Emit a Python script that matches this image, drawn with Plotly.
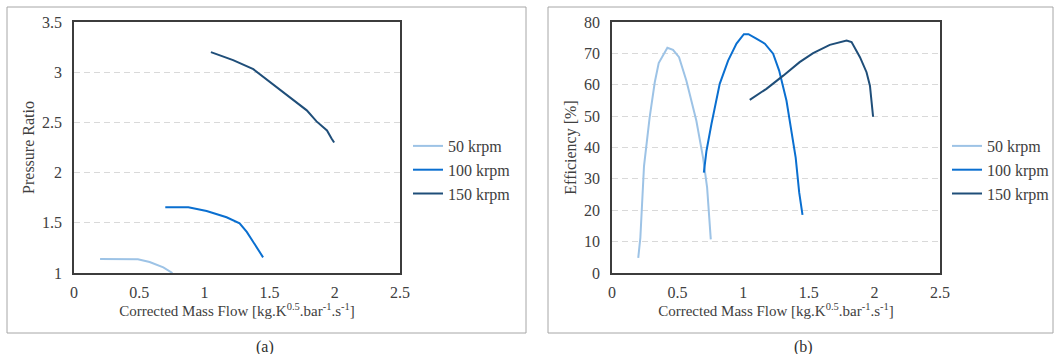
import plotly.graph_objects as go

W, H = 1060, 354

# ---- data: panel (a) pressure ratio ----
pr50_x = [0.20, 0.49, 0.58, 0.685, 0.755]
pr50_y = [1.14, 1.136, 1.11, 1.056, 1.00]
pr100_x = [0.70, 0.877, 1.017, 1.17, 1.27, 1.325, 1.45]
pr100_y = [1.655, 1.655, 1.617, 1.555, 1.495, 1.41, 1.156]
pr150_x = [1.05, 1.22, 1.375, 1.45, 1.63, 1.785, 1.86, 1.94, 1.975, 1.995]
pr150_y = [3.20, 3.12, 3.03, 2.955, 2.77, 2.62, 2.51, 2.42, 2.34, 2.30]

# ---- data: panel (b) efficiency ----
ef50_x = [0.20, 0.216, 0.244, 0.287, 0.326, 0.356, 0.422, 0.465, 0.511, 0.567, 0.643, 0.694, 0.725, 0.753]
ef50_y = [4.8, 11.2, 34.1, 49.6, 60.8, 66.9, 71.8, 71.1, 68.8, 61.3, 48.5, 36.8, 27.2, 10.7]
ef100_x = [0.70, 0.72, 0.758, 0.821, 0.885, 0.949, 1.005, 1.04, 1.10, 1.165, 1.228, 1.274, 1.33, 1.368, 1.40, 1.427, 1.452]
ef100_y = [32.0, 38.9, 47.5, 60.3, 67.7, 73.1, 76.1, 76.1, 74.7, 73.1, 69.9, 64.5, 54.9, 45.3, 36.8, 25.6, 18.5]
ef150_x = [1.05, 1.177, 1.305, 1.43, 1.533, 1.66, 1.788, 1.826, 1.89, 1.94, 1.966, 1.99]
ef150_y = [55.2, 58.7, 62.9, 67.2, 70.1, 72.7, 74.1, 73.6, 68.8, 64.0, 59.7, 49.8]

series_names = ["50 krpm", "100 krpm", "150 krpm"]
colors = ["#9dc3e6", "#0a6fd0", "#1f4e79"]

x_ticks = [0, 0.5, 1, 1.5, 2, 2.5]
x_ticklabels = ["0", "0.5", "1", "1.5", "2", "2.5"]
pr_ticks = [1, 1.5, 2, 2.5, 3, 3.5]
pr_ticklabels = ["1", "1.5", "2", "2.5", "3", "3.5"]
ef_ticks = [0, 10, 20, 30, 40, 50, 60, 70, 80]

x_title = "Corrected Mass Flow [kg.K<sup>0.5</sup>.bar<sup>-1</sup>.s<sup>-1</sup>]"
captions = ["(a)", "(b)"]

FONT = "Liberation Serif"
TXT = "#404040"

def px(x):
    return x / W

def py(y):
    return 1 - y / H

fig = go.Figure()

pr_sets = [(pr50_x, pr50_y), (pr100_x, pr100_y), (pr150_x, pr150_y)]
ef_sets = [(ef50_x, ef50_y), (ef100_x, ef100_y), (ef150_x, ef150_y)]

for (xs, ys), name, c in zip(pr_sets, series_names, colors):
    fig.add_trace(go.Scatter(x=xs, y=ys, mode="lines", name=name,
                             line=dict(color=c, width=2),
                             xaxis="x", yaxis="y", legend="legend"))
for (xs, ys), name, c in zip(ef_sets, series_names, colors):
    fig.add_trace(go.Scatter(x=xs, y=ys, mode="lines", name=name,
                             line=dict(color=c, width=2),
                             xaxis="x2", yaxis="y2", legend="legend2"))

axis_common = dict(showline=True, mirror=True, linecolor="#3c3c3c", linewidth=1.5,
                   ticks="", zeroline=False, automargin=False,
                   tickfont=dict(family=FONT, size=16, color=TXT))

title_font = dict(family=FONT, size=15, color=TXT)
ytitle_font = dict(family=FONT, size=16, color=TXT)
grid = dict(showgrid=True, gridcolor="#d9d9d9", griddash="6px,4px", gridwidth=1)

fig.update_layout(
    width=W, height=H,
    margin=dict(l=0, r=0, t=0, b=0, autoexpand=False),
    paper_bgcolor="white", plot_bgcolor="white",
    font=dict(family=FONT, color=TXT),
    xaxis=dict(domain=[px(74), px(400)], range=[0, 2.5], tickvals=x_ticks, ticktext=x_ticklabels,
               showgrid=False, anchor="y", ticklabelstandoff=4,
               title=dict(text=x_title, font=title_font, standoff=4),
               **axis_common),
    yaxis=dict(domain=[py(273), py(22)], range=[1, 3.5], tickvals=pr_ticks, ticktext=pr_ticklabels,
               anchor="x", ticklabelstandoff=7, **grid,
               title=dict(text="Pressure Ratio", font=ytitle_font, standoff=3),
               **axis_common),
    xaxis2=dict(domain=[px(612), px(940)], range=[0, 2.5], tickvals=x_ticks, ticktext=x_ticklabels,
                showgrid=False, anchor="y2", ticklabelstandoff=4,
                title=dict(text=x_title, font=title_font, standoff=4),
                **axis_common),
    yaxis2=dict(domain=[py(273), py(22)], range=[0, 80], tickvals=ef_ticks,
                anchor="x2", ticklabelstandoff=7, **grid,
                title=dict(text="Efficiency [%]", font=ytitle_font, standoff=3),
                **axis_common),
    legend=dict(x=px(408), y=py(129), xanchor="left", yanchor="top",
                font=dict(family=FONT, size=16, color=TXT), bgcolor="rgba(0,0,0,0)"),
    legend2=dict(x=px(947), y=py(129), xanchor="left", yanchor="top",
                 font=dict(family=FONT, size=16, color=TXT), bgcolor="rgba(0,0,0,0)"),
    showlegend=True,
)

# outer panel frames
for x0, x1 in [(7, 526), (548, 1053)]:
    fig.add_shape(type="rect", xref="paper", yref="paper",
                  x0=px(x0), x1=px(x1), y0=py(333), y1=py(7),
                  line=dict(color="#a6a6a6", width=1), fillcolor="rgba(0,0,0,0)")

for cx, txt in zip([265, 803], captions):
    fig.add_annotation(x=px(cx), y=py(347), xref="paper", yref="paper", text=txt,
                       showarrow=False, xanchor="center", yanchor="middle",
                       font=dict(family=FONT, size=16, color="#303030"))

fig.write_html("out.html")
